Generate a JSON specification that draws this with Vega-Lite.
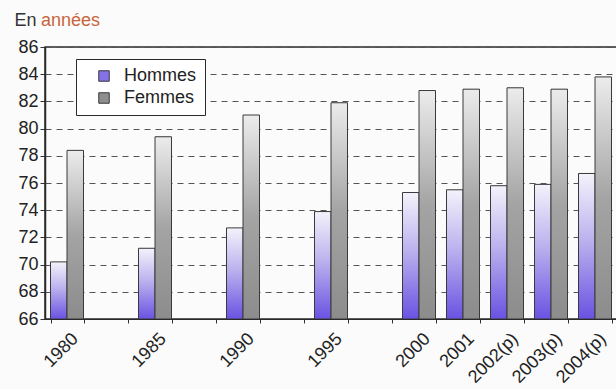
{
  "$schema": "https://vega.github.io/schema/vega-lite/v6.json",
  "autosize": "none",
  "width": 572,
  "height": 272,
  "padding": {"left": 45, "top": 47, "right": 0, "bottom": 70},
  "background": "#fbfbfb",
  "config": {
    "font": "Liberation Sans",
    "view": {"stroke": "#2a2a2a", "strokeWidth": 1.5},
    "title": {"font": "Liberation Sans"}
  },
  "title": {
    "text": "années",
    "anchor": "start",
    "frame": "group",
    "fontSize": 18,
    "fontWeight": "normal",
    "color": "#c8643c",
    "baseline": "alphabetic",
    "dx": -4,
    "dy": 33,
    "offset": 0
  },
  "data": {
    "values": [
      {"annee": "1980", "sexe": "Hommes", "valeur": 70.2},
      {"annee": "1980", "sexe": "Femmes", "valeur": 78.4},
      {"annee": "1985", "sexe": "Hommes", "valeur": 71.2},
      {"annee": "1985", "sexe": "Femmes", "valeur": 79.4},
      {"annee": "1990", "sexe": "Hommes", "valeur": 72.7},
      {"annee": "1990", "sexe": "Femmes", "valeur": 81.0},
      {"annee": "1995", "sexe": "Hommes", "valeur": 73.9},
      {"annee": "1995", "sexe": "Femmes", "valeur": 81.9},
      {"annee": "2000", "sexe": "Hommes", "valeur": 75.3},
      {"annee": "2000", "sexe": "Femmes", "valeur": 82.8},
      {"annee": "2001", "sexe": "Hommes", "valeur": 75.5},
      {"annee": "2001", "sexe": "Femmes", "valeur": 82.9},
      {"annee": "2002(p)", "sexe": "Hommes", "valeur": 75.8},
      {"annee": "2002(p)", "sexe": "Femmes", "valeur": 83.0},
      {"annee": "2003(p)", "sexe": "Hommes", "valeur": 75.9},
      {"annee": "2003(p)", "sexe": "Femmes", "valeur": 82.9},
      {"annee": "2004(p)", "sexe": "Hommes", "valeur": 76.7},
      {"annee": "2004(p)", "sexe": "Femmes", "valeur": 83.8}
    ]
  },
  "encoding": {
    "x": {
      "field": "annee",
      "type": "nominal",
      "sort": null,
      "scale": {
        "domain": ["1980", " ", "1985", "  ", "1990", "   ", "1995", "    ", "2000", "2001", "2002(p)", "2003(p)", "2004(p)"],
        "paddingInner": 0.25,
        "paddingOuter": 0.125
      },
      "axis": {
        "title": null,
        "labelAngle": -45,
        "labelAlign": "right",
        "labelBaseline": "middle",
        "labelFontSize": 18,
        "labelColor": "#222",
        "labelPadding": 13,
        "labelOffset": 8,
        "tickBand": "extent",
        "ticks": true,
        "tickSize": 4,
        "tickColor": "#333",
        "domain": true,
        "domainColor": "#2a2a2a",
        "grid": false
      }
    },
    "xOffset": {
      "field": "sexe",
      "type": "nominal",
      "scale": {"domain": ["Hommes", "Femmes"], "paddingInner": 0, "paddingOuter": 0}
    },
    "y": {
      "field": "valeur",
      "type": "quantitative",
      "stack": null,
      "scale": {"domain": [66, 86], "zero": false, "nice": false},
      "axis": {
        "title": "En",
        "titleAngle": 0,
        "titleAlign": "left",
        "titleBaseline": "alphabetic",
        "titleX": -31,
        "titleY": -22,
        "titleFontSize": 18,
        "titleFontWeight": "normal",
        "titleColor": "#333",
        "values": [66, 68, 70, 72, 74, 76, 78, 80, 82, 84, 86],
        "labelFontSize": 18,
        "labelColor": "#222",
        "labelPadding": 2,
        "tickSize": 5,
        "tickColor": "#333",
        "domainColor": "#2a2a2a",
        "domainWidth": 1.5,
        "grid": true,
        "gridColor": "#555",
        "gridDash": [6, 5],
        "gridWidth": 1
      }
    }
  },
  "layer": [
    {
      "mark": {"type": "bar", "clip": true},
      "encoding": {
        "fill": {
          "field": "sexe",
          "type": "nominal",
          "scale": {"domain": ["Hommes", "Femmes"], "range": ["#8472e6", "#8e8e8e"]},
          "legend": {
            "title": null,
            "orient": "none",
            "legendX": 31,
            "legendY": 12,
            "fillColor": "#ffffff",
            "strokeColor": "#2a2a2a",
            "padding": 8,
            "symbolOffset": 11,
            "symbolType": "square",
            "symbolSize": 110,
            "symbolStrokeColor": "#3a3a3a",
            "symbolStrokeWidth": 1,
            "labelFontSize": 18,
            "labelColor": "#222",
            "labelOffset": 11,
            "rowPadding": 4,
            "offset": 0
          }
        }
      }
    },
    {
      "mark": {"type": "bar", "stroke": "#3a3a3a", "strokeWidth": 1, "clip": true},
      "encoding": {
        "fill": {
          "condition": {
            "test": "datum.sexe === 'Hommes'",
            "value": {
              "gradient": "linear",
              "x1": 0, "y1": 0, "x2": 0, "y2": 1,
              "stops": [
                {"offset": 0, "color": "#f4f2fb"},
                {"offset": 0.45, "color": "#bdb3ee"},
                {"offset": 1, "color": "#6a52e2"}
              ]
            }
          },
          "value": {
            "gradient": "linear",
            "x1": 0, "y1": 0, "x2": 0, "y2": 1,
            "stops": [
              {"offset": 0, "color": "#ececec"},
              {"offset": 0.5, "color": "#a4a4a4"},
              {"offset": 1, "color": "#8c8c8c"}
            ]
          }
        }
      }
    }
  ]
}
